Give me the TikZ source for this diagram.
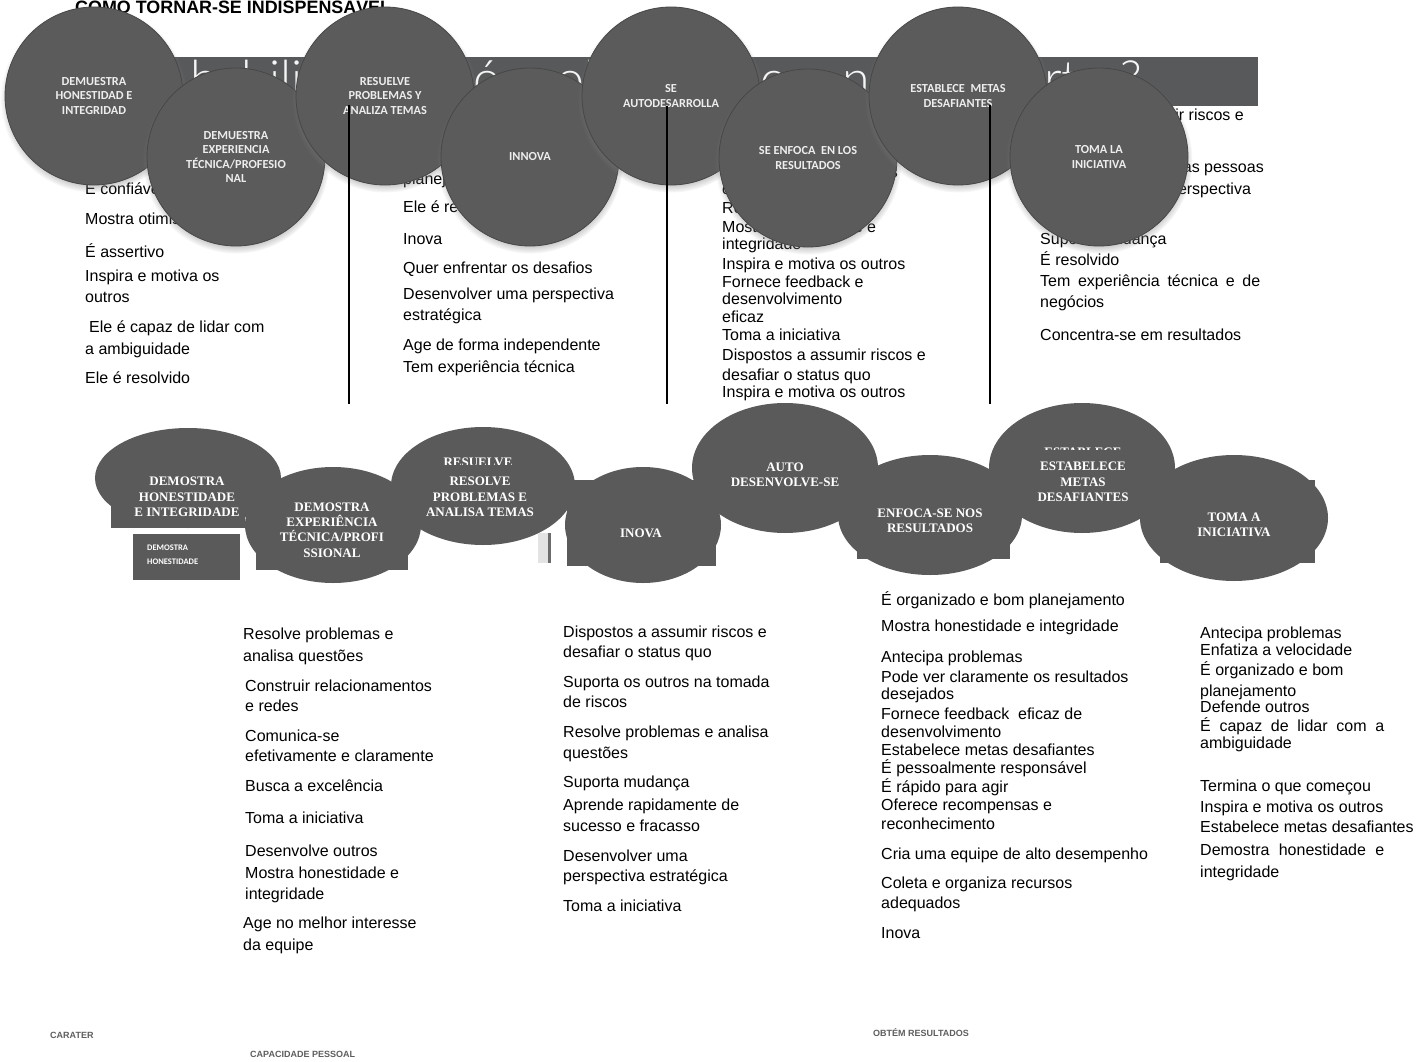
\documentclass[tikz,border=0pt]{standalone}
\usepackage{fontspec}
\setmainfont{Liberation Sans}
\newfontfamily\carlito{Carlito}
\newfontfamily\serifface{Liberation Serif}
\IfFontExistsTF{Lato Light}{\newfontfamily\bannerfont{Lato Light}}{\newfontfamily\bannerfont{Carlito}}
\usetikzlibrary{shapes.geometric,shadows}
\definecolor{bannergray}{HTML}{58595B}
\definecolor{circfill}{HTML}{5B5B5B}
\definecolor{circedge}{HTML}{474747}
\definecolor{flatfill}{HTML}{5A5A5A}
\definecolor{circtext}{HTML}{EDEDED}
\definecolor{labelgray}{HTML}{5E5E5E}
\begin{document}
\begin{tikzpicture}[x=1pt,y=-1pt,
  topcirc/.style={circle, fill=circfill, draw=circedge, line width=0.8pt, minimum size=178pt, inner sep=0pt,
    align=center, text=circtext, font=\carlito\bfseries\fontsize{12.3}{14.6}\selectfont,
    circular drop shadow={shadow xshift=0pt, shadow yshift=-3pt, shadow scale=1.05, opacity=0.7}},
  flatell/.style={ellipse, fill=flatfill, inner sep=0pt},
  flatrect/.style={rectangle, fill=flatfill, inner sep=0pt},
  lowtext/.style={align=center, text=white, inner sep=0pt, font=\serifface\bfseries\fontsize{13}{15.3}\selectfont},
  smalltext/.style={align=left, text=white, inner sep=0pt, font=\carlito\bfseries\fontsize{8.5}{14.5}\selectfont},
  tx/.style={anchor=west, inner sep=0pt, text height=11pt, text depth=3pt, font=\fontsize{16}{18}\selectfont},
  txe/.style={tx, anchor=east},
  bantext/.style={anchor=base west, inner sep=0pt, text=white!92!gray, font=\bannerfont\fontsize{50}{50}\selectfont},
  vline/.style={line width=1.6pt, black},
  footlabel/.style={anchor=west, inner sep=0pt, text=labelgray, font=\bfseries\fontsize{9}{11}\selectfont}
]
\useasboundingbox (0,0) rectangle (1427,1062);
\clip (0,0) rectangle (1427,1062);
\fill[white] (0,0) rectangle (1427,1062);

% title
\node[anchor=base west, inner sep=0pt, font=\bfseries\fontsize{17.9}{20}\selectfont] (title) at (75,13.5) {COMO TORNAR-SE INDISPENSÁVEL};

% banner
\node[flatrect, fill=bannergray, anchor=north west, minimum width=1118pt, minimum height=49pt] (banner) at (140,57) {};
\node[bantext] (bt1) at (190,97) {habili};
\node[bantext] (bt2) at (473,97) {ó};
\node[bantext] (bt3) at (556,97) {ol};
\node[bantext] (bt4) at (760,97) {c};
\node[bantext] (bt5) at (842,97) {n};
\node[bantext] (bt6) at (1044,97) {rt};
\node[bantext] (bt7) at (1120,97) {?};

% upper text columns
\node[tx] (a1) at (85,190) {É confiável};
\node[tx] (a2) at (85,220) {Mostra otimismo};
\node[tx] (a3) at (85,253) {É assertivo};
\node[tx] (a4) at (85,277) {Inspira e motiva os};
\node[tx] (a5) at (85,298) {outros};
\node[tx] (a6) at (89,328) {Ele é capaz de lidar com};
\node[tx] (a7) at (85,350) {a ambiguidade};
\node[tx] (a8) at (85,379) {Ele é resolvido};

\node[tx] (b1) at (403,180) {planejamento};
\node[tx] (b2) at (403,208) {Ele é resolvido};
\node[tx] (b3) at (403,240) {Inova};
\node[tx] (b4) at (403,269) {Quer enfrentar os desafios};
\node[tx] (b5) at (403,295) {Desenvolver uma perspectiva};
\node[tx] (b6) at (403,316) {estratégica};
\node[tx] (b7) at (403,346) {Age de forma independente};
\node[tx] (b8) at (403,368) {Tem experiência técnica};

\node[txe] (c0) at (898,173) {temas};
\node[tx] (c1) at (722,190) {com};
\node[tx] (c2) at (722,209) {Resolve problemas};
\node[tx] (c3) at (722,228) {Mostra honestidade e};
\node[tx] (c4) at (722,245) {integridade};
\node[tx] (c5) at (722,265) {Inspira e motiva os outros};
\node[tx] (c6) at (722,283) {Fornece feedback e};
\node[tx] (c7) at (722,300) {desenvolvimento};
\node[tx] (c8) at (722,318) {eficaz};
\node[tx] (c9) at (722,336) {Toma a iniciativa};
\node[tx] (c10) at (722,356) {Dispostos a assumir riscos e};
\node[tx] (c11) at (722,376) {desafiar o status quo};
\node[tx] (c12) at (722,393) {Inspira e motiva os outros};

\node[tx] (d1) at (1040,117) {Dispostos a assumir riscos e};
\node[txe] (d2) at (1264,168) {as pessoas};
\node[tx] (d3) at (1040,190) {Desenvolver uma perspectiva};
\node[tx] (d4) at (1040,240) {Suporta mudança};
\node[tx] (d5) at (1040,261) {É resolvido};
\node[tx] (d6) at (1040,282) {\makebox[220pt][s]{Tem experiência técnica e de}};
\node[tx] (d7) at (1040,303) {negócios};
\node[tx] (d8) at (1040,336) {Concentra-se em resultados};

% upper circles
\node[topcirc] (k1) at (94,96) {DEMUESTRA\\HONESTIDAD E\\INTEGRIDAD};
\node[topcirc] (k2) at (236,157) {DEMUESTRA\\EXPERIENCIA\\TÉCNICA/PROFESIO\\NAL};
\node[topcirc] (k3) at (385,96) {RESUELVE\\PROBLEMAS Y\\ANALIZA TEMAS};
\node[topcirc] (k4) at (530,157) {INNOVA};
\node[topcirc] (k5) at (671,96) {SE\\AUTODESARROLLA};
\node[topcirc] (k6) at (808,158) {SE ENFOCA\ \ EN LOS\\RESULTADOS};
\node[topcirc] (k7) at (958,96) {ESTABLECE\ \ METAS\\DESAFIANTES};
\node[topcirc] (k8) at (1099,157) {TOMA LA\\INICIATIVA};

% vertical lines
\coordinate (v1t) at (349,105);
\coordinate (v1b) at (349,404);
\coordinate (v2t) at (667,106);
\coordinate (v2b) at (667,404);
\coordinate (v3t) at (990,105);
\coordinate (v3b) at (990,404);
\draw[vline] (v1t) -- (v1b);
\draw[vline] (v2t) -- (v2b);
\draw[vline] (v3t) -- (v3b);

% lower shapes
\node[flatell, minimum width=186pt, minimum height=100pt] (e1) at (188,478) {};
\fill[flatfill] (111,480) rectangle (245,528);
\node[flatrect, anchor=north west, minimum width=107pt, minimum height=46pt] (e1b) at (133,534) {};
\node[flatell, minimum width=176pt, minimum height=116pt] (e2) at (333,525) {};
\fill[flatfill] (256,496) rectangle (408,570);
\node[flatell, minimum width=184pt, minimum height=118pt] (e3) at (483,486) {};
\fill[gray!22] (538,533) rectangle (548,563);
\draw[line width=2.2pt, gray!85!black] (549.5,533) -- (549.5,563);
\node[flatell, minimum width=156pt, minimum height=116pt] (e4) at (643,525) {};
\fill[flatfill] (567,480) rectangle (716,566);
\node[flatell, minimum width=186pt, minimum height=130pt] (e5) at (785,468) {};
\node[flatell, minimum width=184pt, minimum height=120pt] (e6) at (930,515) {};
\fill[flatfill] (857,480) rectangle (1010,559);
\node[flatell, minimum width=186pt, minimum height=130pt] (e7) at (1082,468) {};
\node[flatell, minimum width=188pt, minimum height=126pt] (e8) at (1234,518) {};
\fill[flatfill] (1160,480) rectangle (1315,563);

% lower labels
\node[lowtext] (l1) at (187,497) {DEMOSTRA\\HONESTIDADE\\E INTEGRIDADE};
\node[smalltext, anchor=west] (l1b) at (147,554.5) {DEMOSTRA\\HONESTIDADE};
\node[lowtext] (l2) at (332,530) {DEMOSTRA\\EXPERIÊNCIA\\TÉCNICA/PROFI\\SSIONAL};
\node[lowtext] (l3g) at (478,462) {RESUELVE};
\fill[flatfill] (425,464.5) rectangle (535,474);
\node[lowtext] (l3) at (480,497) {RESOLVE\\PROBLEMAS E\\ANALISA TEMAS};
\node[lowtext] (l4) at (641,533) {INOVA};
\node[lowtext] (l5) at (785,475) {AUTO\\DESENVOLVE-SE};
\node[lowtext] (l6) at (930,521) {ENFOCA-SE NOS\\RESULTADOS};
\node[lowtext] (l7g) at (1083,452) {ESTABLECE};
\fill[flatfill] (1025,449.5) rectangle (1140,460);
\node[lowtext] (l7) at (1083,482) {ESTABELECE\\METAS\\DESAFIANTES};
\node[lowtext] (l8) at (1234,525) {TOMA A\\INICIATIVA};

% lower text columns
\node[tx] (p1) at (243,635) {Resolve problemas e};
\node[tx] (p2) at (243,657) {analisa questões};
\node[tx] (p3) at (245,687) {Construir relacionamentos};
\node[tx] (p4) at (245,707) {e redes};
\node[tx] (p5) at (245,737) {Comunica-se};
\node[tx] (p6) at (245,757) {efetivamente e claramente};
\node[tx] (p7) at (245,787) {Busca a excelência};
\node[tx] (p8) at (245,819) {Toma a iniciativa};
\node[tx] (p9) at (245,852) {Desenvolve outros};
\node[tx] (p10) at (245,874) {Mostra honestidade e};
\node[tx] (p11) at (245,895) {integridade};
\node[tx] (p12) at (243,924) {Age no melhor interesse};
\node[tx] (p13) at (243,946) {da equipe};

\node[tx] (q1) at (563,633) {Dispostos a assumir riscos e};
\node[tx] (q2) at (563,653) {desafiar o status quo};
\node[tx] (q3) at (563,683) {Suporta os outros na tomada};
\node[tx] (q4) at (563,703) {de riscos};
\node[tx] (q5) at (563,733) {Resolve problemas e analisa};
\node[tx] (q6) at (563,754) {questões};
\node[tx] (q7) at (563,783) {Suporta mudança};
\node[tx] (q8) at (563,806) {Aprende rapidamente de};
\node[tx] (q9) at (563,827) {sucesso e fracasso};
\node[tx] (q10) at (563,857) {Desenvolver uma};
\node[tx] (q11) at (563,877) {perspectiva estratégica};
\node[tx] (q12) at (563,907) {Toma a iniciativa};

\node[tx] (r1) at (881,601) {É organizado e bom planejamento};
\node[tx] (r2) at (881,627) {Mostra honestidade e integridade};
\node[tx] (r3) at (881,658) {Antecipa problemas};
\node[tx] (r4) at (881,678) {Pode ver claramente os resultados};
\node[tx] (r5) at (881,695) {desejados};
\node[tx] (r6) at (881,715) {Fornece feedback\ \ eficaz de};
\node[tx] (r7) at (881,733) {desenvolvimento};
\node[tx] (r8) at (881,751) {Estabelece metas desafiantes};
\node[tx] (r9) at (881,769) {É pessoalmente responsável};
\node[tx] (r10) at (881,788) {É rápido para agir};
\node[tx] (r11) at (881,806) {Oferece recompensas e};
\node[tx] (r12) at (881,825) {reconhecimento};
\node[tx] (r13) at (881,855) {Cria uma equipe de alto desempenho};
\node[tx] (r14) at (881,884) {Coleta e organiza recursos};
\node[tx] (r15) at (881,904) {adequados};
\node[tx] (r16) at (881,934) {Inova};

\node[tx] (s1) at (1200,634) {Antecipa problemas};
\node[tx] (s2) at (1200,651) {Enfatiza a velocidade};
\node[tx] (s3) at (1200,671) {É organizado e bom};
\node[tx] (s4) at (1200,692) {planejamento};
\node[tx] (s5) at (1200,708) {Defende outros};
\node[tx] (s6) at (1200,727) {\makebox[184pt][s]{É capaz de lidar com a}};
\node[tx] (s7) at (1200,744) {ambiguidade};
\node[tx] (s8) at (1200,787) {Termina o que começou};
\node[tx] (s9) at (1200,808) {Inspira e motiva os outros};
\node[tx] (s10) at (1200,828) {Estabelece metas desafiantes};
\node[tx] (s11) at (1200,851) {\makebox[184pt][s]{Demostra honestidade e}};
\node[tx] (s12) at (1200,873) {integridade};

% footer labels
\node[footlabel] (f1) at (50,1035) {CARATER};
\node[footlabel] (f2) at (250,1054) {CAPACIDADE PESSOAL};
\node[footlabel] (f3) at (873,1033) {OBTÉM RESULTADOS};
\end{tikzpicture}
\end{document}
